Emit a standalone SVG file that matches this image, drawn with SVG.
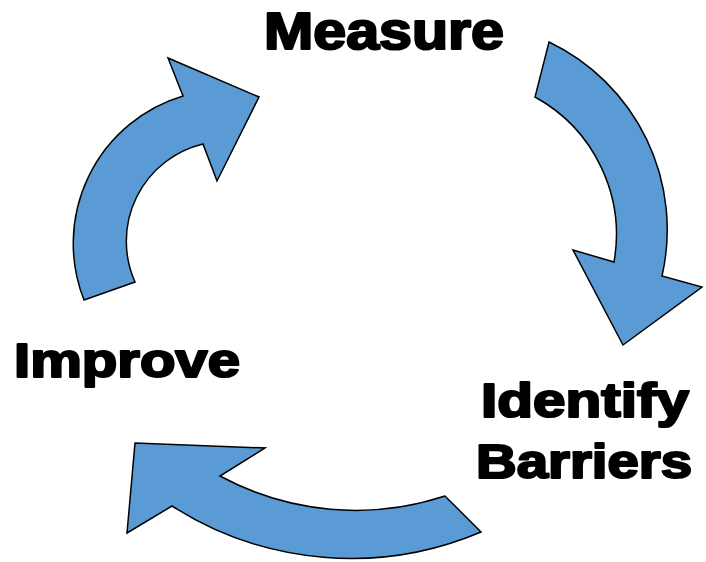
<svg xmlns="http://www.w3.org/2000/svg" width="706" height="562" viewBox="0 0 706 562">
  <style>
    .arrow { fill: #5B9BD5; stroke: #000000; stroke-width: 1.5; stroke-linejoin: miter; }
    .label { font-family: "Liberation Sans", Arial, sans-serif; font-weight: bold; fill: #000000; stroke: #000000; stroke-width: 2.2; stroke-linejoin: round; }
  </style>
  <rect width="706" height="562" fill="#ffffff"/>

  <!-- Curved cycle arrows -->
  <g id="connectors">
    <path id="arrow-improve-measure" class="arrow"
      d="M 84,300 A 154 154 0 0 1 183,96 L 168,58 L 259,97 L 217,181 L 203,144 A 100 100 0 0 0 135,282 Z"/>
    <path id="arrow-measure-identify" class="arrow"
      d="M 549,42 A 208 208 0 0 1 662,276 L 702,287 L 623,345 L 573,250 L 614,262 A 157 157 0 0 0 535,97 Z"/>
    <path id="arrow-identify-improve" class="arrow"
      d="M 481,532 A 332 332 0 0 1 172,506 L 127,533 L 135,443 L 265,448 L 220,476 A 285 285 0 0 0 445,496 Z"/>
  </g>

  <!-- Stage labels -->
  <g id="measure">
    <text class="label" x="264" y="49" font-size="51" textLength="240" lengthAdjust="spacingAndGlyphs">Measure</text>
  </g>
  <g id="identify-barriers">
    <text class="label" x="481" y="417" font-size="48" textLength="208" lengthAdjust="spacingAndGlyphs">Identify</text>
    <text class="label" x="476" y="478" font-size="48" textLength="216" lengthAdjust="spacingAndGlyphs">Barriers</text>
  </g>
  <g id="improve">
    <text class="label" x="14" y="377" font-size="48" textLength="226" lengthAdjust="spacingAndGlyphs">Improve</text>
  </g>
</svg>
